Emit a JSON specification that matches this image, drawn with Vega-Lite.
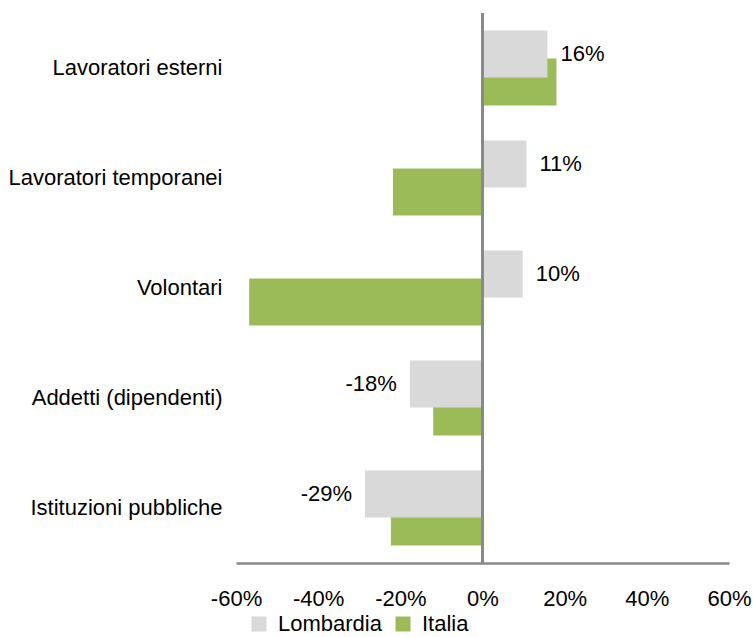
{
  "$schema": "https://vega.github.io/schema/vega-lite/v6.json",
  "width": 493,
  "height": 550,
  "autosize": {"type": "none"},
  "padding": {"left": 236, "top": 13, "right": 24, "bottom": 74},
  "background": "white",
  "config": {"font": "Liberation Sans", "view": {"stroke": null}},
  "data": {
    "values": [
      {"categoria": "Lavoratori esterni", "serie": "Lombardia", "valore": 0.158},
      {"categoria": "Lavoratori esterni", "serie": "Italia", "valore": 0.18},
      {"categoria": "Lavoratori temporanei", "serie": "Lombardia", "valore": 0.107},
      {"categoria": "Lavoratori temporanei", "serie": "Italia", "valore": -0.218},
      {"categoria": "Volontari", "serie": "Lombardia", "valore": 0.098},
      {"categoria": "Volontari", "serie": "Italia", "valore": -0.568},
      {"categoria": "Addetti (dipendenti)", "serie": "Lombardia", "valore": -0.177},
      {"categoria": "Addetti (dipendenti)", "serie": "Italia", "valore": -0.12},
      {"categoria": "Istituzioni pubbliche", "serie": "Lombardia", "valore": -0.286},
      {"categoria": "Istituzioni pubbliche", "serie": "Italia", "valore": -0.223}
    ]
  },
  "layer": [
    {
      "transform": [{"filter": "datum.serie === 'Italia'"}],
      "mark": {"type": "bar", "height": 47, "yOffset": 14},
      "encoding": {
        "y": {
          "field": "categoria", "type": "nominal",
          "sort": ["Lavoratori esterni", "Lavoratori temporanei", "Volontari", "Addetti (dipendenti)", "Istituzioni pubbliche"],
          "scale": {"paddingInner": 0, "paddingOuter": 0},
          "axis": {"title": null, "domain": false, "ticks": false, "labelFontSize": 22, "labelColor": "black", "labelPadding": 14, "labelLimit": 0}
        },
        "x": {
          "field": "valore", "type": "quantitative",
          "scale": {"domain": [-0.6, 0.6]},
          "axis": {"title": null, "values": [-0.6, -0.4, -0.2, 0, 0.2, 0.4, 0.6], "labelExpr": "round(datum.value*100) + '%'", "grid": false, "ticks": false, "domainColor": "#898989", "domainWidth": 2.5, "labelFontSize": 22, "labelColor": "black", "labelPadding": 25, "labelOverlap": false, "labelFlush": false}
        },
        "color": {
          "field": "serie", "type": "nominal",
          "scale": {"domain": ["Lombardia", "Italia"], "range": ["#D9D9D9", "#9BBB59"]},
          "legend": {"orient": "none", "legendX": 12, "legendY": 600, "direction": "horizontal", "title": null, "symbolType": "square", "symbolSize": 225, "symbolStrokeWidth": 0, "labelFontSize": 22, "labelColor": "black", "columnPadding": 10, "labelOffset": 8, "labelLimit": 0}
        }
      }
    },
    {
      "transform": [{"filter": "datum.serie === 'Lombardia'"}],
      "mark": {"type": "bar", "height": 47, "yOffset": -14},
      "encoding": {
        "y": {"field": "categoria", "type": "nominal", "sort": ["Lavoratori esterni", "Lavoratori temporanei", "Volontari", "Addetti (dipendenti)", "Istituzioni pubbliche"]},
        "x": {"field": "valore", "type": "quantitative"},
        "color": {"field": "serie", "type": "nominal"}
      }
    },
    {
      "data": {"values": [{}]},
      "mark": {"type": "rule", "color": "#898989", "strokeWidth": 3},
      "encoding": {"x": {"datum": 0}}
    },
    {
      "transform": [
        {"filter": "datum.serie === 'Lombardia' && datum.valore > 0"},
        {"calculate": "round(datum.valore*100) + '%'", "as": "etichetta"}
      ],
      "mark": {"type": "text", "align": "left", "baseline": "middle", "dx": 13, "yOffset": -14, "fontSize": 22, "color": "black"},
      "encoding": {
        "y": {"field": "categoria", "type": "nominal", "sort": ["Lavoratori esterni", "Lavoratori temporanei", "Volontari", "Addetti (dipendenti)", "Istituzioni pubbliche"]},
        "x": {"field": "valore", "type": "quantitative"},
        "text": {"field": "etichetta"}
      }
    },
    {
      "transform": [
        {"filter": "datum.serie === 'Lombardia' && datum.valore < 0"},
        {"calculate": "round(datum.valore*100) + '%'", "as": "etichetta"}
      ],
      "mark": {"type": "text", "align": "right", "baseline": "middle", "dx": -13, "yOffset": -14, "fontSize": 22, "color": "black"},
      "encoding": {
        "y": {"field": "categoria", "type": "nominal", "sort": ["Lavoratori esterni", "Lavoratori temporanei", "Volontari", "Addetti (dipendenti)", "Istituzioni pubbliche"]},
        "x": {"field": "valore", "type": "quantitative"},
        "text": {"field": "etichetta"}
      }
    }
  ]
}
